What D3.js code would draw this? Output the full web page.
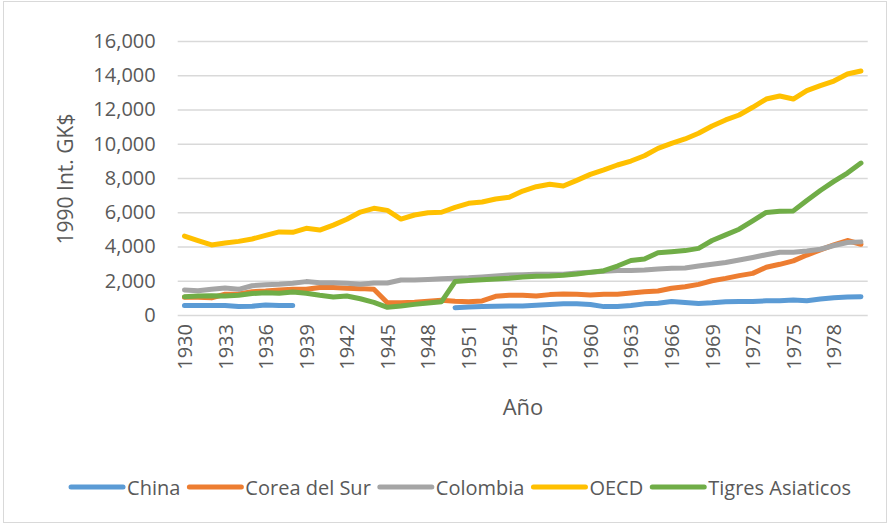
<!DOCTYPE html>
<html>
<head>
<meta charset="utf-8">
<script src="https://cdn.jsdelivr.net/npm/d3@7"></script>
<style>
  body { margin: 0; background: #fff; }
  text { font-family: "Open Sans", sans-serif; fill: #595959; }
</style>
</head>
<body>
<div id="chart"></div>
<script>
// years 1930..1980
var years = d3.range(1930, 1981)
var tickYears = d3.range(1930, 1980, 3)
var yTicks = [0, 2000, 4000, 6000, 8000, 10000, 12000, 14000, 16000]

// values (1990 Int. GK$)
var china = [550, 550, 550, 550, 490, 510, 590, 550, 550,
  null, null, null, null, null, null, null, null, null, null, null,
  430, 470, 490, 510, 530, 530, 570, 610, 650, 650,
  610, 490, 490, 550, 650, 690, 790, 730, 670, 710,
  770, 790, 790, 830, 830, 870, 830, 930, 1010, 1050, 1070]
var corea = [1030, 1030, 1000, 1210, 1230, 1360, 1400, 1460, 1500, 1500,
  1600, 1600, 1560, 1540, 1500, 720, 720, 740, 800, 860,
  800, 770, 820, 1090, 1150, 1150, 1110, 1190, 1230, 1210,
  1170, 1210, 1210, 1290, 1360, 1400, 1560, 1650, 1790, 2000,
  2140, 2300, 2430, 2790, 2960, 3160, 3500, 3800, 4090, 4350, 4130]
var colombia = [1460, 1420, 1500, 1570, 1500, 1710, 1770, 1800, 1850, 1950,
  1880, 1880, 1850, 1800, 1870, 1870, 2040, 2040, 2080, 2120,
  2140, 2170, 2220, 2280, 2330, 2350, 2380, 2380, 2380, 2450,
  2500, 2550, 2600, 2600, 2630, 2690, 2730, 2750, 2860, 2960,
  3070, 3210, 3360, 3520, 3660, 3660, 3740, 3840, 4060, 4230, 4270]
var oecd = [4610, 4350, 4090, 4200, 4300, 4440, 4650, 4850, 4830, 5060,
  4960, 5250, 5590, 6010, 6230, 6110, 5600, 5840, 5975, 6000,
  6290, 6520, 6600, 6770, 6870, 7240, 7490, 7630, 7530, 7860,
  8210, 8470, 8760, 8990, 9300, 9730, 10020, 10280, 10610, 11040,
  11390, 11680, 12130, 12610, 12790, 12610, 13100, 13390, 13660, 14070, 14250]
var tigres = [1070, 1110, 1130, 1110, 1150, 1250, 1300, 1270, 1340, 1270,
  1150, 1050, 1110, 950, 740, 450, 520, 620, 700, 780,
  1950, 2010, 2060, 2100, 2140, 2220, 2260, 2280, 2320, 2390,
  2490, 2590, 2860, 3180, 3270, 3640, 3700, 3760, 3890, 4350,
  4680, 5010, 5500, 5990, 6060, 6080, 6690, 7270, 7800, 8290, 8870]

var seriesNames = ['China', 'Corea del Sur', 'Colombia', 'OECD', 'Tigres Asiaticos']
var seriesValues = [china, corea, colombia, oecd, tigres]
var colors = ['#5b9bd5', '#ed7d31', '#a5a5a5', '#ffc000', '#70ad47']

var width = 891
var height = 526
var plot = { left: 177.7, right: 867.7, top: 41, bottom: 315 }

var svg = d3.select('#chart').append('svg')
  .attr('width', width)
  .attr('height', height)

// chart border
svg.append('rect')
  .attr('x', 3.5).attr('y', 1.5)
  .attr('width', 883).attr('height', 521)
  .attr('fill', 'none')
  .attr('stroke', '#d9d9d9')

var x = d3.scaleBand().domain(years).range([plot.left, plot.right]).padding(0)
var y = d3.scaleLinear().domain([0, 16000]).range([plot.bottom, plot.top])

// gridlines + y labels
var yAxis = svg.append('g')
  .attr('transform', 'translate(' + plot.left + ',0)')
  .call(d3.axisLeft(y).tickValues(yTicks).tickSize(-(plot.right - plot.left))
    .tickPadding(22).tickFormat(d3.format(',')))
yAxis.select('.domain').remove()
yAxis.selectAll('line').attr('stroke', '#d9d9d9').attr('stroke-width', 1.3)
yAxis.selectAll('text').style('font-size', '20px').attr('fill', '#595959')
  .attr('font-family', null)

// x labels
var xAxis = svg.append('g')
  .attr('transform', 'translate(0,' + plot.bottom + ')')
  .call(d3.axisBottom(x).tickValues(tickYears).tickSize(0))
xAxis.select('.domain').remove()
xAxis.selectAll('text')
  .style('font-size', '20px')
  .attr('fill', '#595959')
  .attr('font-family', null)
  .attr('text-anchor', 'end')
  .attr('dy', null)
  .attr('y', 0)
  .attr('transform', 'translate(0,9) rotate(-90)')
  .attr('dominant-baseline', 'central')

// lines
var line = d3.line()
  .defined(function (d) { return d[1] != null })
  .x(function (d) { return x(d[0]) + x.bandwidth() / 2 })
  .y(function (d) { return y(d[1]) })

seriesValues.forEach(function (vals, i) {
  svg.append('path')
    .datum(years.map(function (yr, j) { return [yr, vals[j]] }))
    .attr('d', line)
    .attr('fill', 'none')
    .attr('stroke', colors[i])
    .attr('stroke-width', 5)
    .attr('stroke-linejoin', 'round')
    .attr('stroke-linecap', 'round')
})

// axis titles
svg.append('text')
  .attr('transform', 'translate(65,179) rotate(-90)')
  .attr('text-anchor', 'middle')
  .attr('dominant-baseline', 'central')
  .style('font-size', '21px')
  .text('1990 Int. GK$')

svg.append('text')
  .attr('x', 523).attr('y', 415)
  .attr('text-anchor', 'middle')
  .style('font-size', '22px')
  .text('Año')

// legend, laid out in a row from measured text widths and centred
var legend = svg.append('g')
var cursor = 0
seriesNames.forEach(function (name, i) {
  var g = legend.append('g').attr('transform', 'translate(' + cursor + ',487)')
  g.append('line')
    .attr('x1', 2).attr('x2', 54)
    .attr('stroke', colors[i]).attr('stroke-width', 5)
    .attr('stroke-linecap', 'round')
  var t = g.append('text')
    .attr('x', 58).attr('y', 0)
    .attr('dominant-baseline', 'central')
    .style('font-size', '20px')
    .text(name)
  cursor += 58 + t.node().getComputedTextLength() + 7
})
legend.attr('transform', 'translate(' + (460 - (cursor - 7) / 2) + ',0)')
</script>
</body>
</html>
